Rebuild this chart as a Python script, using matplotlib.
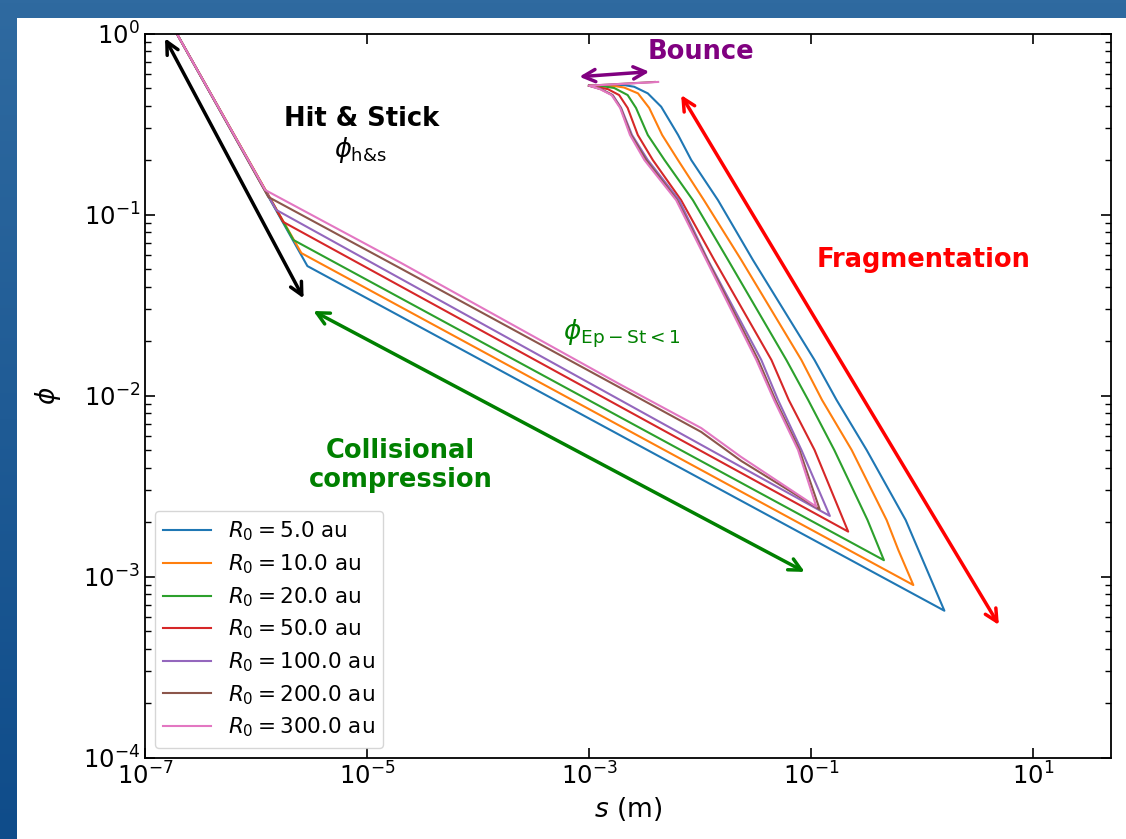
import numpy as np
import matplotlib
matplotlib.use("Agg")
import matplotlib.pyplot as plt
from matplotlib.patches import Rectangle
from matplotlib.colors import LinearSegmentedColormap
from matplotlib.ticker import NullLocator, LogFormatterSciNotation
from matplotlib.mathtext import MathTextParser

# radial distances of the runs
r0_au = [5.0, 10.0, 20.0, 50.0, 100.0, 200.0, 300.0]

# grain size s (m) and filling factor phi along each track
s_5 = [1.93e-7, 2.90e-6, 1.58, 0.923, 0.708, 0.315, 0.169, 0.107, 0.0298, 0.01445, 8.30e-3, 6.32e-3, 4.45e-3, 3.37e-3, 2.54e-3, 2.06e-3, 9.95e-4]
phi_5 = [1.0, 0.0519, 6.47e-4, 1.40e-3, 2.05e-3, 5.0e-3, 9.44e-3, 1.57e-2, 5.61e-2, 0.120, 0.200, 0.275, 0.394, 0.467, 0.508, 0.519, 0.515]

s_10 = [1.93e-7, 2.56e-6, 0.830, 0.608, 0.477, 0.231, 0.125, 0.0815, 0.0234, 0.0108, 6.30e-3, 4.54e-3, 3.47e-3, 2.75e-3, 2.06e-3, 1.68e-3, 9.95e-4]
phi_10 = [1.0, 0.0612, 8.97e-4, 1.40e-3, 2.05e-3, 5.0e-3, 9.44e-3, 1.57e-2, 5.61e-2, 0.120, 0.200, 0.275, 0.388, 0.467, 0.503, 0.513, 0.515]

s_20 = [1.93e-7, 2.17e-6, 0.451, 0.321, 0.161, 0.0938, 0.0597, 0.0178, 8.59e-3, 4.77e-3, 3.37e-3, 2.64e-3, 2.22e-3, 1.68e-3, 1.42e-3, 9.95e-4]
phi_20 = [1.0, 0.0723, 1.23e-3, 2.05e-3, 5.0e-3, 9.44e-3, 1.57e-2, 5.61e-2, 0.120, 0.200, 0.275, 0.388, 0.457, 0.500, 0.508, 0.515]

s_50 = [1.93e-7, 1.76e-6, 0.215, 0.107, 0.0627, 0.0438, 0.01337, 6.73e-3, 3.74e-3, 2.74e-3, 2.22e-3, 1.86e-3, 1.47e-3, 9.95e-4]
phi_50 = [1.0, 0.0909, 1.77e-3, 5.0e-3, 9.44e-3, 1.57e-2, 5.61e-2, 0.120, 0.200, 0.275, 0.388, 0.457, 0.493, 0.515]

s_100 = [1.93e-7, 1.52e-6, 0.147, 0.0815, 0.0502, 0.0355, 0.01172, 6.46e-3, 3.37e-3, 2.43e-3, 1.94e-3, 1.63e-3, 1.28e-3, 9.95e-4]
phi_100 = [1.0, 0.106, 2.16e-3, 5.0e-3, 9.44e-3, 1.57e-2, 5.61e-2, 0.120, 0.200, 0.275, 0.388, 0.457, 0.493, 0.515]

s_200 = [1.93e-7, 1.29e-6, 2.0e-5, 1.94e-3, 0.0102, 0.0234, 0.119, 0.0782, 0.0475, 0.0333, 0.01156, 6.19e-3, 3.26e-3, 2.38e-3, 1.92e-3, 1.61e-3, 1.27e-3, 9.95e-4, 3.9e-3]
phi_200 = [1.0, 0.125, 0.0504, 0.01096, 6.29e-3, 4.35e-3, 2.35e-3, 5.0e-3, 9.44e-3, 1.57e-2, 5.61e-2, 0.120, 0.200, 0.275, 0.388, 0.457, 0.493, 0.515, 0.540]

s_300 = [1.93e-7, 1.21e-6, 2.0e-5, 1.94e-3, 0.0102, 0.0234, 0.111, 0.0760, 0.0462, 0.0320, 0.01132, 6.07e-3, 3.14e-3, 2.33e-3, 1.90e-3, 1.59e-3, 1.25e-3, 9.95e-4, 4.18e-3]
phi_300 = [1.0, 0.1365, 0.0542, 0.01143, 6.61e-3, 4.57e-3, 2.43e-3, 5.0e-3, 9.44e-3, 1.57e-2, 5.61e-2, 0.120, 0.200, 0.275, 0.388, 0.457, 0.493, 0.515, 0.540]

all_s = [s_5, s_10, s_20, s_50, s_100, s_200, s_300]
all_phi = [phi_5, phi_10, phi_20, phi_50, phi_100, phi_200, phi_300]

fig = plt.figure(figsize=(11.26, 8.39), dpi=100)

# slide background: blue gradient with a white panel
bg = fig.add_axes([0, 0, 1, 1], zorder=-2)
bg.imshow(np.linspace(0, 1, 256)[:, None], aspect='auto', extent=(0, 1, 0, 1),
          cmap=LinearSegmentedColormap.from_list('slide', ['#2f6aa0', '#0f4c8a']))
bg.add_patch(Rectangle((17 / 1126, 0), 1, 1 - 18 / 839, facecolor='white', edgecolor='none'))
bg.set_xlim(0, 1)
bg.set_ylim(0, 1)
bg.axis('off')

ax = fig.add_axes([145 / 1126, 1 - 757.5 / 839, (1111 - 145) / 1126, (757.5 - 33.5) / 839])

for s, phi, r in zip(all_s, all_phi, r0_au):
    ax.plot(s, phi, lw=1.5, label=r'$R_0 = %.1f$ au' % r)

ax.set_xscale('log')
ax.set_yscale('log')
ax.set_xlim(1e-7, 50)
ax.set_ylim(1e-4, 1)
ax.set_xticks([1e-7, 1e-5, 1e-3, 1e-1, 1e1])
ax.xaxis.set_major_formatter(LogFormatterSciNotation())
ax.xaxis.set_minor_locator(NullLocator())
ax.tick_params(which='both', direction='in', top=True, right=True, labelsize=17.5)
ax.tick_params(which='major', length=7, width=1.2)
ax.tick_params(which='minor', length=4, width=1.0)
for sp in ax.spines.values():
    sp.set_linewidth(1.3)
ax.set_xlabel('$s$ (m)', fontsize=19)
ax.set_ylabel(r'$\phi$', fontsize=19, labelpad=14)

# regime arrows
arrow = dict(arrowstyle='<->', lw=2.5, mutation_scale=22, shrinkA=0, shrinkB=0)
ax.annotate('', xy=(1.515e-7, 0.941), xytext=(2.68e-6, 0.0344), arrowprops=dict(arrow, color='black'))
ax.annotate('', xy=(3.28e-6, 0.0293), xytext=(0.0873, 1.06e-3), arrowprops=dict(arrow, color='green'))
ax.annotate('', xy=(6.73e-3, 0.457), xytext=(4.89, 5.40e-4), arrowprops=dict(arrow, color='red'))
ax.annotate('', xy=(8.15e-4, 0.577), xytext=(3.48e-3, 0.615), arrowprops=dict(arrow, color='purple'))

ax.text(8.9e-6, 0.337, 'Hit & Stick', fontsize=18.5, fontweight='bold', ha='center', va='center')

hs_label = r'$\phi_{\mathrm{h&s}}$'
try:
    MathTextParser('agg').parse(hs_label, dpi=100)
    ax.text(8.8e-6, 0.227, hs_label, fontsize=18.5, ha='center', va='center')
except Exception:
    ax.text(7.6e-6, 0.227, r'$\phi$', fontsize=18.5, ha='center', va='center')
    ax.text(8.6e-6, 0.215, 'h&s', fontsize=14, ha='left', va='center')

ax.text(0.0102, 0.79, 'Bounce', fontsize=18.5, fontweight='bold', color='purple', ha='center', va='center')
ax.text(1.03, 5.61e-2, 'Fragmentation', fontsize=18.5, fontweight='bold', color='red', ha='center', va='center')
ax.text(1.94e-3, 0.0219, r'$\phi_{\rm Ep-St<1}$', fontsize=19, color='green', ha='center', va='center')
ax.text(2.0e-5, 4.08e-3, 'Collisional\ncompression', fontsize=18.5, fontweight='bold', color='green',
        ha='center', va='center', linespacing=1.15)

ax.legend(loc='lower left', fontsize=15.5, labelspacing=0.42, handlelength=2.2, borderaxespad=0.45)

fig.savefig('out.png', dpi=100)
